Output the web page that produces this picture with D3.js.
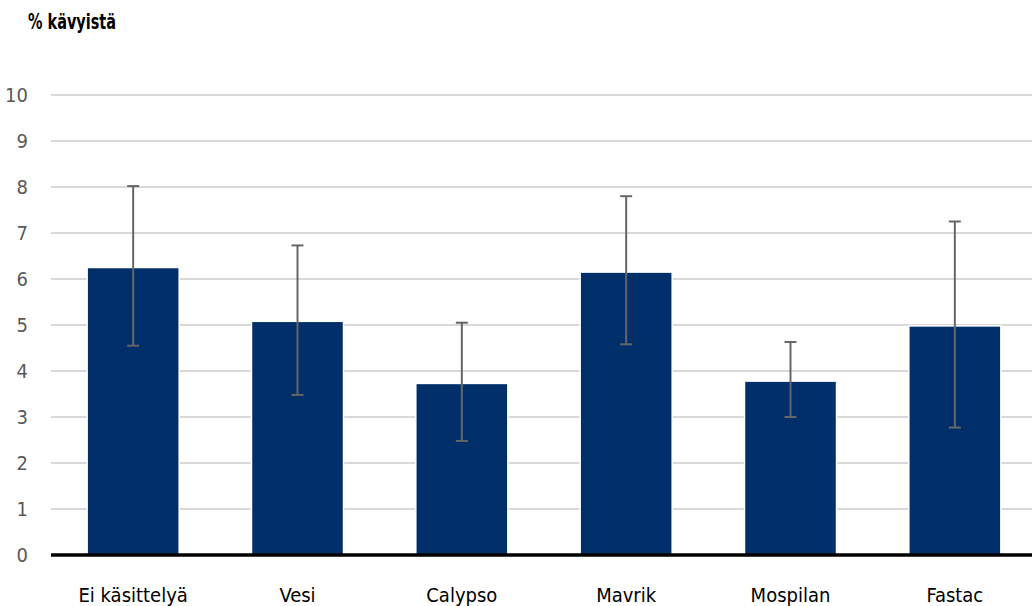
<!DOCTYPE html>
<html><head><meta charset="utf-8">
<script src="https://cdn.jsdelivr.net/npm/d3@7"></script>
<style>
body{margin:0;background:#fff;}
text{font-family:"Liberation Sans Narrow","DejaVu Sans Condensed","Roboto Condensed",sans-serif;font-stretch:condensed;}
</style></head>
<body><svg id="c" width="1032" height="606"></svg>
<script>
const categories = ["Ei käsittelyä","Vesi","Calypso","Mavrik","Mospilan","Fastac"];
const values = [6.25,5.08,3.73,6.15,3.78,4.98];
const errLow = [4.55,3.48,2.48,4.58,3.0,2.77];
const errHigh = [8.02,6.73,5.05,7.8,4.63,7.25];
const yTicks = [0,1,2,3,4,5,6,7,8,9,10];
const yTitle = "% kävyistä";

const svg = d3.select("#c");
const x = d3.scaleBand().domain(categories).range([51,1037]).paddingInner(0.44).paddingOuter(0.22);
const y = d3.scaleLinear().domain([0,10]).range([555,95]);

// gridlines
svg.append("g").selectAll("line").data(yTicks.filter(d=>d>0)).join("line")
  .attr("x1",51).attr("x2",1032).attr("y1",d=>y(d)).attr("y2",d=>y(d))
  .attr("stroke","#d9d9d9").attr("stroke-width",2);

// y labels
svg.append("g").selectAll("text").data(yTicks).join("text")
  .attr("x",28).attr("y",d=>y(d)+7).attr("text-anchor","end")
  .attr("font-size",20).attr("fill","#595959").text(d=>d);

// bars
svg.append("g").selectAll("rect").data(categories).join("rect")
  .attr("x",d=>x(d)).attr("width",x.bandwidth())
  .attr("y",(d,i)=>y(values[i])).attr("height",(d,i)=>y(0)-y(values[i]))
  .attr("fill","#002f6a").attr("stroke","#ffffff").attr("stroke-width",1.5);

// error bars
const eb = svg.append("g").attr("stroke","#666666").attr("stroke-width",2);
categories.forEach((c,i)=>{
  const cx = x(c)+x.bandwidth()/2;
  eb.append("line").attr("x1",cx).attr("x2",cx).attr("y1",y(errLow[i])).attr("y2",y(errHigh[i]));
  eb.append("line").attr("x1",cx-6).attr("x2",cx+6).attr("y1",y(errLow[i])).attr("y2",y(errLow[i]));
  eb.append("line").attr("x1",cx-6).attr("x2",cx+6).attr("y1",y(errHigh[i])).attr("y2",y(errHigh[i]));
});

// axis line
svg.append("line").attr("x1",51).attr("x2",1032).attr("y1",y(0)).attr("y2",y(0))
  .attr("stroke","#000").attr("stroke-width",3.5);

// x labels
svg.append("g").selectAll("text").data(categories).join("text")
  .attr("x",d=>x(d)+x.bandwidth()/2).attr("y",602).attr("text-anchor","middle")
  .attr("font-size",20).attr("fill","#000").text(d=>d);

// title
svg.append("text").attr("x",28).attr("y",29).attr("font-size",21).attr("font-weight","bold")
  .attr("textLength",88).attr("lengthAdjust","spacingAndGlyphs")
  .attr("fill","#000").text(yTitle);
</script></body></html>
